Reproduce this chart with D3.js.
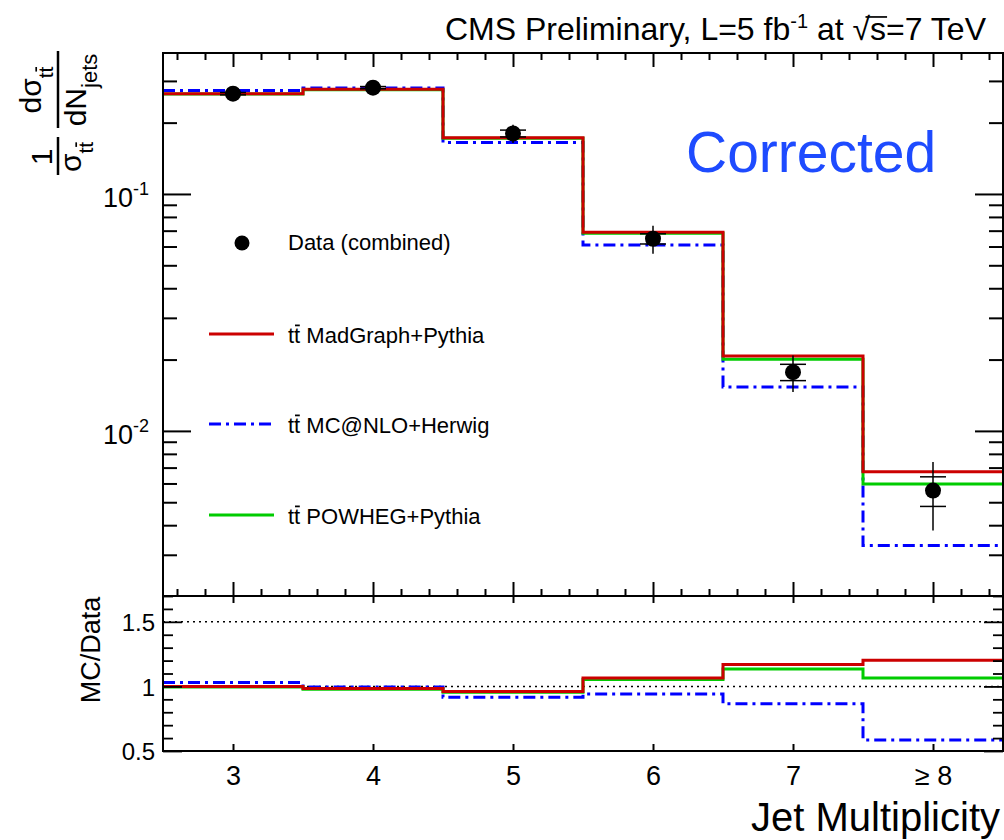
<!DOCTYPE html>
<html>
<head>
<meta charset="utf-8">
<script src="https://cdn.jsdelivr.net/npm/d3@7"></script>
<style>
  html, body { margin: 0; padding: 0; background: #fff; }
  svg text { font-family: "Liberation Sans", Arial, Helvetica, sans-serif; fill: #000; }
</style>
</head>
<body>
<svg id="chart" width="1004" height="840"></svg>
<script>
// Jet multiplicity bins
const categories = ["3", "4", "5", "6", "7", "\u2265 8"];
const binCenters = [3, 4, 5, 6, 7, 8];

// Normalised differential cross section, data (combined channels)
const dataValues   = [0.265, 0.281, 0.180, 0.0647, 0.0177, 0.0056];
const dataStatErr  = [0.003, 0.003, 0.006, 0.0032, 0.0014, 0.0008];
const dataTotalErr = [0.007, 0.007, 0.016, 0.0088, 0.0031, 0.0018];

// Simulation predictions
const madgraphValues = [0.265, 0.2766, 0.1728, 0.0689, 0.0207, 0.00673];
const mcatnloValues  = [0.273, 0.2800, 0.1650, 0.0609, 0.01533, 0.00328];
const powhegValues   = [0.264, 0.2750, 0.1718, 0.0682, 0.02007, 0.00597];

// Axis ticks and labels
const mainMajorTicks = [0.01, 0.1];
const mainMajorExponents = ["-2", "-1"];
const ratioMajorTicks = [0.5, 1, 1.5];
const ratioTickLabels = ["0.5", "1", "1.5"];
const ratioReferenceLines = [1, 1.5];

const legendLabels = ["Data (combined)", " MadGraph+Pythia", " MC@NLO+Herwig", " POWHEG+Pythia"];

// ---- layout ----
const L = 163, R = 1003, T = 53, MB = 596, RB = 751;
const RED = "#cc0000", BLUE = "#0000ff", GREEN = "#00cc00";
const DASHDOT = "12,5,3,5";

const svg = d3.select("#chart");

const x  = d3.scaleLinear().domain([2.5, 8.5]).range([L, R]);
const y  = d3.scaleLog().domain([0.00201, 0.3935]).range([MB, T]);
const yr = d3.scaleLinear().domain([0.5, 1.7]).range([RB, MB]);

// Histogram outline as a step path over bin edges
function stepPoints(vals) {
  const pts = [];
  vals.forEach((v, i) => {
    pts.push([binCenters[i] - 0.5, v]);
    pts.push([binCenters[i] + 0.5, v]);
  });
  return pts;
}

function styleAxis(g, width) {
  g.select(".domain").remove();
  g.selectAll(".tick line").attr("stroke", "#000").attr("stroke-width", width);
}

// Bar over a character (anti-top notation), index within the text element
function overline(textSel, idx, fs, parent) {
  const node = textSel.node();
  const s = node.getStartPositionOfChar(idx);
  const e = node.getEndPositionOfChar(idx);
  const yy = s.y - 0.8 * fs;
  (parent || d3.select(node.parentNode)).append("line")
    .attr("x1", s.x + fs * 0.04).attr("x2", e.x - fs * 0.02)
    .attr("y1", yy).attr("y2", yy)
    .attr("stroke", "#000").attr("stroke-width", Math.max(1.3, fs * 0.08));
}

// ---- main panel ----
const minorY = y.ticks().filter(v => !mainMajorTicks.some(m => Math.abs(m - v) < 1e-9));
const minorX = x.ticks(30).filter(v => Math.abs(v - Math.round(v)) > 1e-6);

// left axis: ticks inside, labels outside
const leftMain = svg.append("g").attr("transform", `translate(${L},0)`)
  .call(d3.axisLeft(y).tickValues(mainMajorTicks).tickSize(-28).tickPadding(14)
    .tickFormat(() => ""));
styleAxis(leftMain, 2);
leftMain.selectAll(".tick text").each(function (d, i) {
  const t = d3.select(this).attr("dy", null).attr("y", 13).attr("font-size", 27);
  t.append("tspan").text("10");
  t.append("tspan").attr("dy", -12).attr("font-size", 18).text(mainMajorExponents[i]);
});
styleAxis(svg.append("g").attr("transform", `translate(${L},0)`)
  .call(d3.axisLeft(y).tickValues(minorY).tickSize(-14).tickFormat(() => "")), 2);

// right axis
styleAxis(svg.append("g").attr("transform", `translate(${R},0)`)
  .call(d3.axisLeft(y).tickValues(mainMajorTicks).tickSize(28).tickFormat(() => "")), 2);
styleAxis(svg.append("g").attr("transform", `translate(${R},0)`)
  .call(d3.axisLeft(y).tickValues(minorY).tickSize(14).tickFormat(() => "")), 2);

// bottom and top x ticks of the main panel
styleAxis(svg.append("g").attr("transform", `translate(0,${MB})`)
  .call(d3.axisBottom(x).tickValues(binCenters).tickSize(-14).tickFormat(() => "")), 2);
styleAxis(svg.append("g").attr("transform", `translate(0,${MB})`)
  .call(d3.axisBottom(x).tickValues(minorX).tickSize(-7).tickFormat(() => "")), 2);
styleAxis(svg.append("g").attr("transform", `translate(0,${T})`)
  .call(d3.axisBottom(x).tickValues(binCenters).tickSize(14).tickFormat(() => "")), 2);
styleAxis(svg.append("g").attr("transform", `translate(0,${T})`)
  .call(d3.axisBottom(x).tickValues(minorX).tickSize(7).tickFormat(() => "")), 2);

const mainLine = d3.line().x(d => x(d[0])).y(d => y(d[1]));
const series = [
  { vals: mcatnloValues, color: BLUE, dash: DASHDOT },
  { vals: powhegValues, color: GREEN, dash: null },
  { vals: madgraphValues, color: RED, dash: null }
];
series.forEach(s => {
  svg.append("path").attr("d", mainLine(stepPoints(s.vals)))
    .attr("fill", "none").attr("stroke", s.color).attr("stroke-width", 3)
    .attr("stroke-dasharray", s.dash);
});

// data points with stat (capped) and total errors
const pts = svg.append("g");
dataValues.forEach((v, i) => {
  const cx = x(binCenters[i]);
  pts.append("line").attr("x1", cx).attr("x2", cx)
    .attr("y1", y(v + dataTotalErr[i])).attr("y2", y(v - dataTotalErr[i]))
    .attr("stroke", "#000").attr("stroke-width", 1.5);
  [v + dataStatErr[i], v - dataStatErr[i]].forEach(e => {
    pts.append("line").attr("x1", cx - 13).attr("x2", cx + 13)
      .attr("y1", y(e)).attr("y2", y(e))
      .attr("stroke", "#000").attr("stroke-width", 1.5);
  });
  pts.append("circle").attr("cx", cx).attr("cy", y(v)).attr("r", 8).attr("fill", "#000");
});

svg.append("rect").attr("x", L).attr("y", T).attr("width", R - L).attr("height", MB - T)
  .attr("fill", "none").attr("stroke", "#000").attr("stroke-width", 2);

// ---- legend ----
const lg = svg.append("g").attr("font-size", 22);
lg.append("circle").attr("cx", 242).attr("cy", 243).attr("r", 7.5).attr("fill", "#000");
lg.append("text").attr("x", 288).attr("y", 250).text(legendLabels[0]);
const legendRows = [
  { yy: 334, color: RED, dash: null, label: legendLabels[1] },
  { yy: 424, color: BLUE, dash: DASHDOT, label: legendLabels[2] },
  { yy: 515, color: GREEN, dash: null, label: legendLabels[3] }
];
legendRows.forEach(r => {
  lg.append("line").attr("x1", 209).attr("x2", 274).attr("y1", r.yy).attr("y2", r.yy)
    .attr("stroke", r.color).attr("stroke-width", 3).attr("stroke-dasharray", r.dash);
  const t = lg.append("text").attr("x", 288).attr("y", r.yy + 9);
  t.append("tspan").text("tt");
  t.append("tspan").text(r.label);
  overline(t, 1, 22, lg);
});

// ---- text annotations ----
svg.append("text").attr("x", 686).attr("y", 172).attr("font-size", 57)
  .style("fill", "#1e4bff").text("Corrected");

const title = svg.append("text").attr("x", 986).attr("y", 40)
  .attr("text-anchor", "end").attr("font-size", 32);
title.append("tspan").text("CMS Preliminary, L=5 fb");
title.append("tspan").attr("dy", -12).attr("font-size", 20).text("-1");
title.append("tspan").attr("dy", 12).text(" at \u221A");
title.append("tspan").text("s");
title.append("tspan").text("=7 TeV");
{
  const n = "CMS Preliminary, L=5 fb-1 at \u221A".length;
  const node = title.node();
  const s = node.getStartPositionOfChar(n - 1);
  const e = node.getEndPositionOfChar(n);
  const yy = s.y - 0.72 * 32;
  svg.append("line").attr("x1", s.x + 13).attr("x2", e.x + 1).attr("y1", yy).attr("y2", yy)
    .attr("stroke", "#000").attr("stroke-width", 1.7);
}

// y-axis title: (1/sigma_tt) dsigma_tt / dN_jets
const yl = svg.append("g").attr("transform", "translate(58,175) rotate(-90)").attr("font-size", 30);
function fracBar(a, b) {
  yl.append("line").attr("x1", a).attr("x2", b).attr("y1", 0).attr("y2", 0)
    .attr("stroke", "#000").attr("stroke-width", 2.5);
}
fracBar(0, 38);
yl.append("text").attr("x", 18).attr("y", -6).attr("text-anchor", "middle").text("1");
const den1 = yl.append("text").attr("x", 18).attr("y", 23).attr("text-anchor", "middle");
den1.append("tspan").text("\u03C3");
den1.append("tspan").attr("dy", 12).attr("font-size", 21).text("tt");
overline(den1, 2, 21, yl);

fracBar(47, 124);
const num2 = yl.append("text").attr("x", 85).attr("y", -17).attr("text-anchor", "middle");
num2.append("tspan").text("d\u03C3");
num2.append("tspan").attr("dy", 12).attr("font-size", 21).text("tt");
overline(num2, 3, 21, yl);
const den2 = yl.append("text").attr("x", 85).attr("y", 28).attr("text-anchor", "middle");
den2.append("tspan").text("dN");
den2.append("tspan").attr("dy", 11).attr("font-size", 22).text("jets");

// ---- ratio panel ----
const minorR = yr.ticks(12).filter(v => !ratioMajorTicks.some(m => Math.abs(m - v) < 1e-9));

ratioReferenceLines.forEach(v => {
  svg.append("line").attr("x1", L).attr("x2", R).attr("y1", yr(v)).attr("y2", yr(v))
    .attr("stroke", "#000").attr("stroke-width", 1.5).attr("stroke-dasharray", "2,4");
});

const ratioLine = d3.line().x(d => x(d[0])).y(d => yr(d[1]));
series.forEach(s => {
  const ratios = s.vals.map((v, i) => v / dataValues[i]);
  svg.append("path").attr("d", ratioLine(stepPoints(ratios)))
    .attr("fill", "none").attr("stroke", s.color).attr("stroke-width", 3)
    .attr("stroke-dasharray", s.dash);
});

const leftR = svg.append("g").attr("transform", `translate(${L},0)`)
  .call(d3.axisLeft(yr).tickValues(ratioMajorTicks).tickSize(-19).tickPadding(8)
    .tickFormat((d, i) => ratioTickLabels[i]));
styleAxis(leftR, 1.8);
leftR.selectAll(".tick text").attr("font-size", 24).attr("dy", "0.36em");
styleAxis(svg.append("g").attr("transform", `translate(${L},0)`)
  .call(d3.axisLeft(yr).tickValues(minorR).tickSize(-10).tickFormat(() => "")), 1.8);
styleAxis(svg.append("g").attr("transform", `translate(${R},0)`)
  .call(d3.axisLeft(yr).tickValues(ratioMajorTicks).tickSize(19).tickFormat(() => "")), 1.8);
styleAxis(svg.append("g").attr("transform", `translate(${R},0)`)
  .call(d3.axisLeft(yr).tickValues(minorR).tickSize(10).tickFormat(() => "")), 1.8);

const bottomR = svg.append("g").attr("transform", `translate(0,${RB})`)
  .call(d3.axisBottom(x).tickValues(binCenters).tickSize(-7).tickPadding(15)
    .tickFormat((d, i) => categories[i]));
styleAxis(bottomR, 2);
bottomR.selectAll(".tick text").attr("font-size", 27);
styleAxis(svg.append("g").attr("transform", `translate(0,${MB})`)
  .call(d3.axisBottom(x).tickValues(binCenters).tickSize(7).tickFormat(() => "")), 2);

svg.append("rect").attr("x", L).attr("y", MB).attr("width", R - L).attr("height", RB - MB)
  .attr("fill", "none").attr("stroke", "#000").attr("stroke-width", 2);

svg.append("text").attr("transform", "translate(100,650) rotate(-90)")
  .attr("text-anchor", "middle").attr("font-size", 27).text("MC/Data");

svg.append("text").attr("x", 1000).attr("y", 831).attr("text-anchor", "end")
  .attr("font-size", 40).text("Jet Multiplicity");
</script>
</body>
</html>
